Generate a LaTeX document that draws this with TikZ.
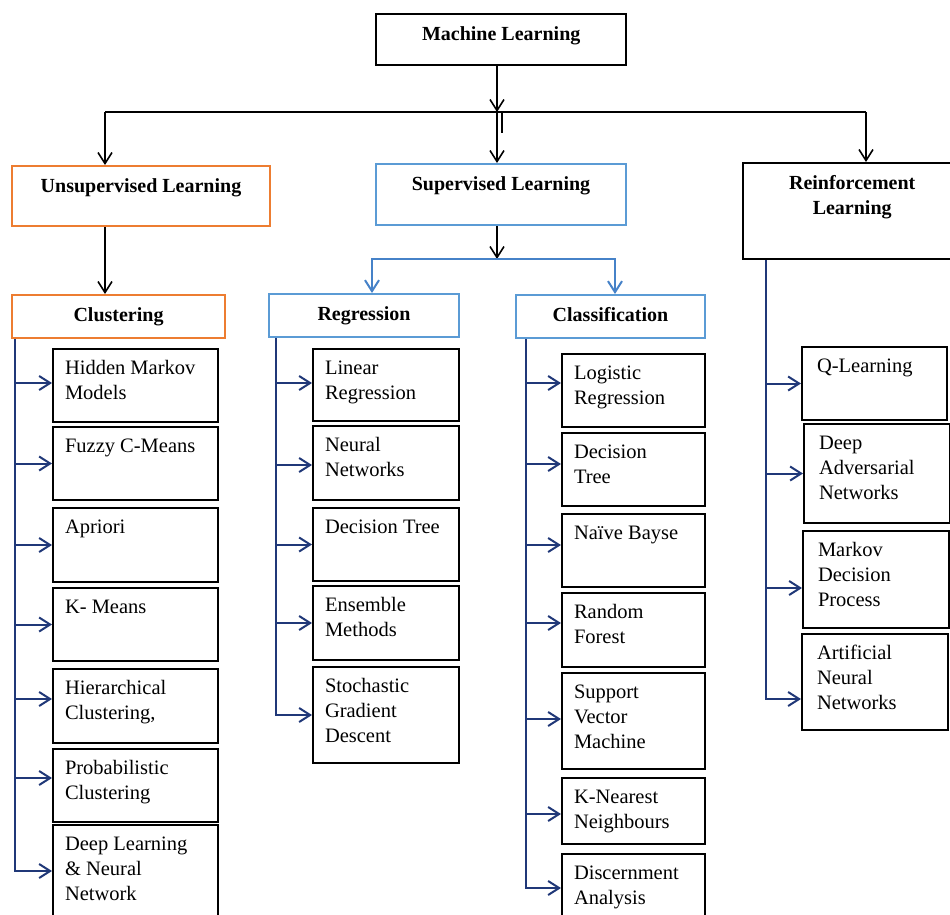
\documentclass[tikz,border=0pt]{standalone}
\usepackage{fontspec}
\setmainfont{Liberation Serif}
\usetikzlibrary{arrows.meta}

\definecolor{mlorange}{RGB}{237,125,49}
\definecolor{mlblue}{RGB}{91,155,213}
\definecolor{mlnavy}{RGB}{32,56,120}
\definecolor{mlsplit}{RGB}{70,130,200}

% leaf box: #1 inner xsep, #2 name, #3 x, #4 y, #5 width, #6 height,
% #7 vertical offset of the incoming arrow, #8 text
\newcommand\mlleaf[8]{%
  \node[leaf, inner xsep=#1pt, minimum width=#5pt, minimum height=#6pt] (#2) at (#3,#4)
    {\parbox[t][\dimexpr#6pt-16pt\relax][t]{\dimexpr#5pt-#1pt-#1pt\relax}{\raggedright\strut #8}};
  \coordinate (#2-in) at ([yshift=#7pt]#2.west);%
}
% header box: #1 style, #2 name, #3 x, #4 y, #5 width, #6 height, #7 text
\newcommand\mlhead[7]{%
  \node[head, #1, minimum width=#5pt, minimum height=#6pt] (#2) at (#3,#4)
    {\parbox[t][\dimexpr#6pt-17pt\relax][t]{\dimexpr#5pt-10pt\relax}{\centering\bfseries\strut #7}};%
}

\tikzset{
  leaf/.style={draw=black, line width=2pt, anchor=north west, inner ysep=8pt,
    font=\fontsize{20.5}{25}\selectfont},
  head/.style={line width=2pt, anchor=north west, inner xsep=5pt, inner ysep=8.5pt,
    font=\fontsize{20}{25}\selectfont},
  blackhead/.style={draw=black, line width=2.4pt},
  orangehead/.style={draw=mlorange},
  bluehead/.style={draw=mlblue},
  tip/.style={-{Straight Barb[length=11pt,width=14pt]}},
  topline/.style={draw=black, line width=1.6pt},
  toparrow/.style={topline, tip},
  splitarrow/.style={draw=mlsplit, line width=2pt, tip},
  leafarrow/.style={draw=mlnavy, line width=2pt, tip},
}

\begin{document}
\begin{tikzpicture}[x=1pt, y=-1pt]
\useasboundingbox (0,0) rectangle (950,914);
\fill[white] (0,0) rectangle (950,914);

% ---- top levels ----
\mlhead{blackhead}{ml}{375}{13}{250}{51}{Machine Learning}
\mlhead{orangehead}{unsup}{11}{165}{258}{60}{Unsupervised Learning}
\mlhead{bluehead}{sup}{375}{163}{250}{61}{Supervised Learning}
\mlhead{blackhead}{reinf}{742}{162}{218}{96}{Reinforcement\\Learning}
\mlhead{orangehead}{clu}{11}{294}{213}{43}{Clustering}
\mlhead{bluehead}{reg}{268}{293}{190}{43}{Regression}
\mlhead{bluehead}{cls}{515}{294}{189}{43}{Classification}

% ---- clustering methods ----
\mlleaf{12}{hmm}{52}{348}{165}{73}{2.5}{Hidden Markov\\Models}
\mlleaf{12}{fcm}{52}{426}{165}{73}{0}{Fuzzy C-Means}
\mlleaf{12}{apr}{52}{507}{165}{74}{0}{Apriori}
\mlleaf{12}{km}{52}{587}{165}{73}{0}{K- Means}
\mlleaf{12}{hier}{52}{668}{165}{74}{7}{Hierarchical\\Clustering,}
\mlleaf{12}{prob}{52}{748}{165}{73}{7.5}{Probabilistic\\Clustering}
\mlleaf{12}{dln}{52}{824}{165}{92}{0}{Deep Learning\\\& Neural\\Network}

% ---- regression methods ----
\mlleaf{12}{lin}{312}{348}{146}{72}{2}{Linear\\Regression}
\mlleaf{12}{nn}{312}{425}{146}{74}{-2}{Neural\\Networks}
\mlleaf{12}{rdt}{312}{507}{146}{73}{0}{Decision Tree}
\mlleaf{12}{ens}{312}{585}{146}{74}{0}{Ensemble\\Methods}
\mlleaf{12}{sgd}{312}{666}{146}{96}{0}{Stochastic\\Gradient\\Descent}

% ---- classification methods ----
\mlleaf{12}{lr}{561}{353}{143}{73}{7.5}{Logistic\\Regression}
\mlleaf{12}{cdt}{561}{432}{143}{73}{5.5}{Decision\\Tree}
\mlleaf{12}{nb}{561}{513}{143}{73}{5.5}{Naïve Bayse}
\mlleaf{12}{rf}{561}{592}{143}{74}{7}{Random\\Forest}
\mlleaf{12}{svm}{561}{672}{143}{96}{2}{Support\\Vector\\Machine}
\mlleaf{12}{knn}{561}{777}{143}{66}{-3}{K-Nearest\\Neighbours}
\mlleaf{12}{dis}{561}{853}{143}{68}{0}{Discernment\\Analysis}

% ---- reinforcement methods ----
\mlleaf{15}{ql}{801}{346}{145}{73}{0}{Q-Learning}
\mlleaf{15}{dan}{803}{423}{146}{99}{0}{Deep\\Adversarial\\Networks}
\mlleaf{15}{mdp}{802}{530}{146}{97}{-8.5}{Markov\\Decision\\Process}
\mlleaf{15}{ann}{801}{633}{146}{96}{-17}{Artificial\\Neural\\Networks}

% ---- top distribution ----
\coordinate (hub) at (497,112);
\coordinate (dropL) at (105,112);
\coordinate (dropR) at (866,112);
\coordinate (tick) at (502,133);
\draw[toparrow] (ml.south -| hub) -- (hub);
\draw[topline] (dropL) -- (dropR);
\draw[topline] (tick |- hub) -- (tick);
\draw[toparrow] (dropL) -- (dropL |- unsup.north);
\draw[toparrow] (hub) -- (hub |- sup.north);
\draw[toparrow] (dropR) -- (dropR |- reinf.north);
\draw[toparrow] (unsup.south -| dropL) -- (dropL |- clu.north);

% ---- supervised split ----
\coordinate (split) at (497,259);
\coordinate (splitL) at (372,259);
\coordinate (splitR) at (615,259);
\draw[toparrow] (sup.south -| split) -- (split);
\draw[splitarrow] (split) -| (splitL |- reg.north);
\draw[splitarrow] (split) -| (splitR |- cls.north);

% ---- stems and leaf arrows ----
\coordinate (cs) at ([xshift=4pt]clu.south west);
\draw[leafarrow] (cs) |- (dln-in);
\foreach \b in {hmm,fcm,apr,km,hier,prob}
  \draw[leafarrow] (cs |- \b-in) -- (\b-in);

\coordinate (rs) at ([xshift=8pt]reg.south west);
\draw[leafarrow] (rs) |- (sgd-in);
\foreach \b in {lin,nn,rdt,ens}
  \draw[leafarrow] (rs |- \b-in) -- (\b-in);

\coordinate (ks) at ([xshift=11pt]cls.south west);
\draw[leafarrow] (ks) |- (dis-in);
\foreach \b in {lr,cdt,nb,rf,svm,knn}
  \draw[leafarrow] (ks |- \b-in) -- (\b-in);

\coordinate (qs) at ([xshift=24pt]reinf.south west);
\draw[leafarrow] (qs) |- (ann-in);
\foreach \b in {ql,dan,mdp}
  \draw[leafarrow] (qs |- \b-in) -- (\b-in);
\end{tikzpicture}
\end{document}
